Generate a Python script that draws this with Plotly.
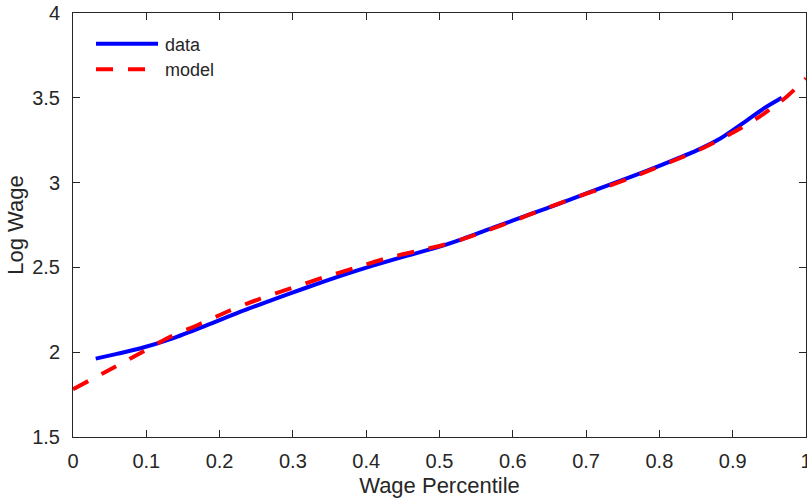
import plotly.graph_objects as go

# ---- data ----
data_x = [0.031, 0.06, 0.091, 0.136, 0.182, 0.227, 0.273, 0.318, 0.364, 0.409,
          0.455, 0.5, 0.532, 0.578, 0.623, 0.669, 0.714, 0.760, 0.805, 0.851,
          0.883, 0.919, 0.942, 0.967]
data_y = [1.962, 1.990, 2.022, 2.082, 2.158, 2.236, 2.310, 2.380, 2.448, 2.510,
          2.568, 2.622, 2.668, 2.742, 2.812, 2.885, 2.958, 3.032, 3.108, 3.190,
          3.260, 3.366, 3.436, 3.500]

model_x = [0.0, 0.041, 0.091, 0.13, 0.171, 0.211, 0.255, 0.298, 0.341, 0.384,
           0.427, 0.473, 0.517, 0.560, 0.603, 0.644, 0.687, 0.730, 0.771, 0.814,
           0.855, 0.896, 0.937, 0.974, 1.0]
model_y = [1.782, 1.876, 1.993, 2.085, 2.162, 2.240, 2.315, 2.378, 2.440, 2.496,
           2.553, 2.600, 2.646, 2.710, 2.778, 2.846, 2.915, 2.978, 3.045, 3.120,
           3.195, 3.285, 3.390, 3.508, 3.615]

x_ticks = [0, 0.1, 0.2, 0.3, 0.4, 0.5, 0.6, 0.7, 0.8, 0.9, 1]
x_tick_labels = ["0", "0.1", "0.2", "0.3", "0.4", "0.5", "0.6", "0.7", "0.8", "0.9", "1"]
y_ticks = [1.5, 2, 2.5, 3, 3.5, 4]
y_tick_labels = ["1.5", "2", "2.5", "3", "3.5", "4"]

series_names = ["data", "model"]
x_title = "Wage Percentile"
y_title = "Log Wage"

BLUE = "#0000FF"
RED = "#FF0000"
INK = "#262626"
FONT = "Liberation Sans, Arial, Helvetica, sans-serif"
DASH = "17px,15px"

fig = go.Figure()
fig.add_trace(go.Scatter(x=data_x, y=data_y, mode="lines", name=series_names[0],
                         line=dict(color=BLUE, width=4, shape="spline", smoothing=0.8),
                         showlegend=False))
fig.add_trace(go.Scatter(x=model_x, y=model_y, mode="lines", name=series_names[1],
                         line=dict(color=RED, width=4, dash=DASH, shape="spline", smoothing=0.8),
                         showlegend=False))

# manual legend (MATLAB-style long line samples, no box)
leg_x0, leg_x1, leg_tx = 0.0314, 0.116, 0.1228
leg_rows = [(0.9276, 0.9235, BLUE, "solid"), (0.8672, 0.8645, RED, DASH)]
for (ly, ty, col, dsh), name in zip(leg_rows, series_names):
    fig.add_shape(type="line", xref="paper", yref="paper", x0=leg_x0, x1=leg_x1,
                  y0=ly, y1=ly, line=dict(color=col, width=4, dash=dsh))
    fig.add_annotation(xref="paper", yref="paper", x=leg_tx, y=ty, text=name,
                       showarrow=False, xanchor="left", yanchor="middle",
                       font=dict(size=18, color=INK, family=FONT))

axis_common = dict(showgrid=False, zeroline=False, showline=True, linecolor=INK,
                   linewidth=1, mirror="ticks", ticks="inside", ticklen=7,
                   tickcolor=INK, tickwidth=1, automargin=False,
                   ticklabeloverflow="allow",
                   tickfont=dict(size=20, color=INK, family=FONT))

fig.update_xaxes(range=[0, 1], tickvals=x_ticks, ticktext=x_tick_labels,
                 title=dict(text=x_title, font=dict(size=22, color=INK, family=FONT), standoff=6),
                 ticklabelstandoff=6, **axis_common)
fig.update_yaxes(range=[1.5, 4], tickvals=y_ticks, ticktext=y_tick_labels,
                 title=dict(text=y_title, font=dict(size=22, color=INK, family=FONT), standoff=2),
                 ticklabelstandoff=8, **axis_common)

fig.update_layout(width=807, height=504, autosize=False,
                  margin=dict(l=73, r=1, t=13, b=67, pad=0),
                  paper_bgcolor="white", plot_bgcolor="white",
                  font=dict(family=FONT, color=INK), showlegend=False)

fig.write_html("out.html", config={"displayModeBar": False},
               post_script="document.body.style.margin='0';document.body.style.overflow='hidden';")
